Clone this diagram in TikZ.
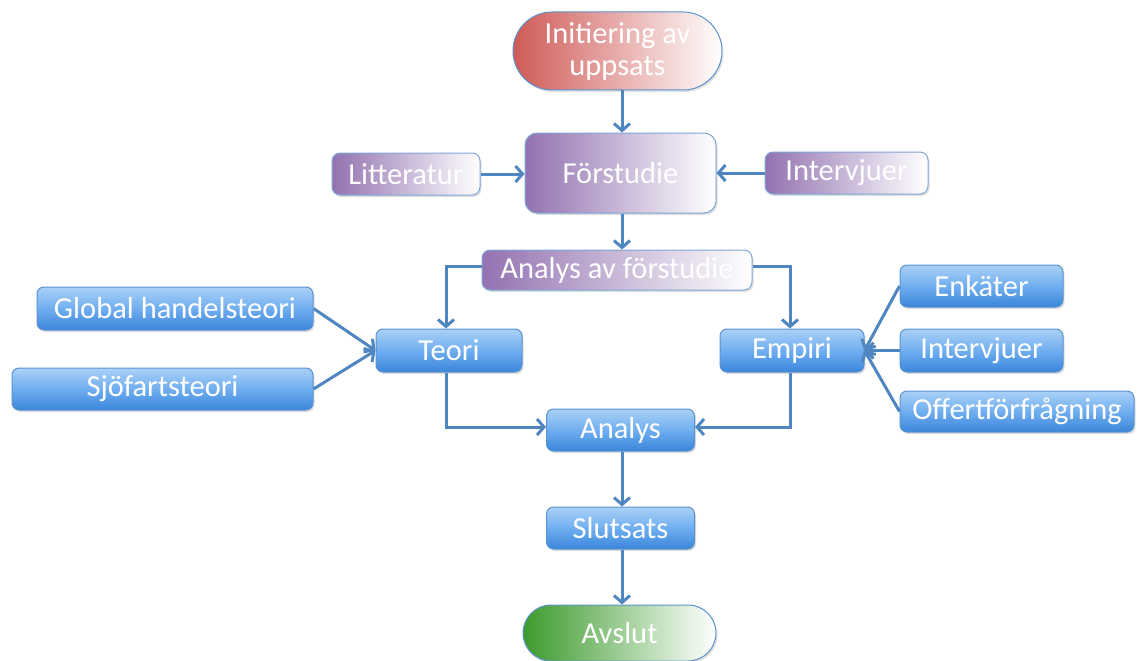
\documentclass[tikz,border=0pt]{standalone}
\usepackage{fontspec}
\setmainfont{Carlito}
\usetikzlibrary{arrows.meta,shadows}
\definecolor{arrowblue}{HTML}{4F86C0}
\definecolor{boxtop}{HTML}{AAD1F7}
\definecolor{boxmid}{HTML}{70AEF0}
\definecolor{boxbot}{HTML}{3A86DB}
\definecolor{boxline}{HTML}{5C93CF}
\definecolor{purp}{HTML}{9272B0}
\definecolor{purpline}{HTML}{7FA6D6}
\definecolor{redl}{HTML}{CF5A57}
\definecolor{greenl}{HTML}{3C9A2C}
\tikzset{
  base/.style={text=white, font=\fontsize{30.5}{32}\selectfont, inner sep=0pt, align=center,
    drop shadow={opacity=0.25, shadow xshift=1.5pt, shadow yshift=-2pt}},
  bluebox/.style={base, draw=boxline, line width=1pt, rounded corners=7pt,
    top color=boxtop, bottom color=boxbot, middle color=boxmid},
  purpbox/.style={base, draw=purpline, line width=1pt, rounded corners=8pt,
    left color=purp, right color=white},
  capsule/.style={base, draw=boxline, line width=1pt},
  conn/.style={draw=arrowblue, line width=3pt, -{Straight Barb[length=7pt,width=16pt,line width=3pt]}},
}
\begin{document}
\begin{tikzpicture}[x=1pt,y=-1pt]
\useasboundingbox (0,0) rectangle (1144,661);
% nodes
\node[capsule, rounded corners=39pt, left color=redl, right color=white, minimum width=209pt, minimum height=78pt] (init) at (617.5,51) {Initiering av\\uppsats};
\node[purpbox, rounded corners=12pt, minimum width=191pt, minimum height=80pt] (forst) at (620.5,173) {Förstudie};
\node[purpbox, minimum width=148pt, minimum height=42pt] (litt) at (406,174) {Litteratur};
\node[purpbox, minimum width=163pt, minimum height=42pt] (intv1) at (846.5,173) {Intervjuer};
\node[purpbox, minimum width=270pt, minimum height=40pt] (aforst) at (617,270) {Analys av förstudie};
\node[bluebox, minimum width=276pt, minimum height=43pt] (global) at (175,308.5) {Global handelsteori};
\node[bluebox, minimum width=301pt, minimum height=42pt] (sjo) at (162.5,389) {Sjöfartsteori};
\node[bluebox, minimum width=146pt, minimum height=43pt] (teori) at (449,350.5) {Teori};
\node[bluebox, minimum width=144pt, minimum height=43pt] (empiri) at (792,350.5) {Empiri};
\node[bluebox, minimum width=163pt, minimum height=42pt] (enk) at (981.5,286) {Enkäter};
\node[bluebox, minimum width=163pt, minimum height=43pt] (intv2) at (981.5,350.5) {Intervjuer};
\node[bluebox, minimum width=234pt, minimum height=41pt] (offert) at (1017,411.5) {Offertförfrågning};
\node[bluebox, minimum width=148pt, minimum height=42pt] (analys) at (620.5,430) {Analys};
\node[bluebox, minimum width=148pt, minimum height=42pt] (slut) at (620.5,528) {Slutsats};
\node[capsule, rounded corners=28pt, left color=greenl, right color=white, minimum width=193pt, minimum height=56pt] (avslut) at (619.5,633) {Avslut};
% connectors
\draw[conn] (init.south -| 622,0) -- (forst.north -| 622,0);
\draw[conn] (litt.east) -- (litt.east -| forst.west);
\draw[conn] (intv1.west) -- (intv1.west -| forst.east);
\draw[conn] (forst.south -| 622,0) -- (aforst.north -| 622,0);
\draw[conn] (aforst.west |- 0,266) -| (teori.north -| 446,0);
\draw[conn] (aforst.east |- 0,266) -| (empiri.north -| 790,0);
\draw[conn] (global.east) -- (teori.west);
\draw[conn] (sjo.east) -- (teori.west);
\draw[conn] (enk.west) -- (empiri.east);
\draw[conn] (intv2.west) -- (empiri.east);
\draw[conn] (offert.west) -- (empiri.east);
\draw[conn] (teori.south -| 446,0) |- (analys.west |- 0,427);
\draw[conn] (empiri.south -| 790,0) |- (analys.east |- 0,427);
\draw[conn] (analys.south -| 622,0) -- (slut.north -| 622,0);
\draw[conn] (slut.south -| 622,0) -- (avslut.north -| 622,0);
\end{tikzpicture}
\end{document}
